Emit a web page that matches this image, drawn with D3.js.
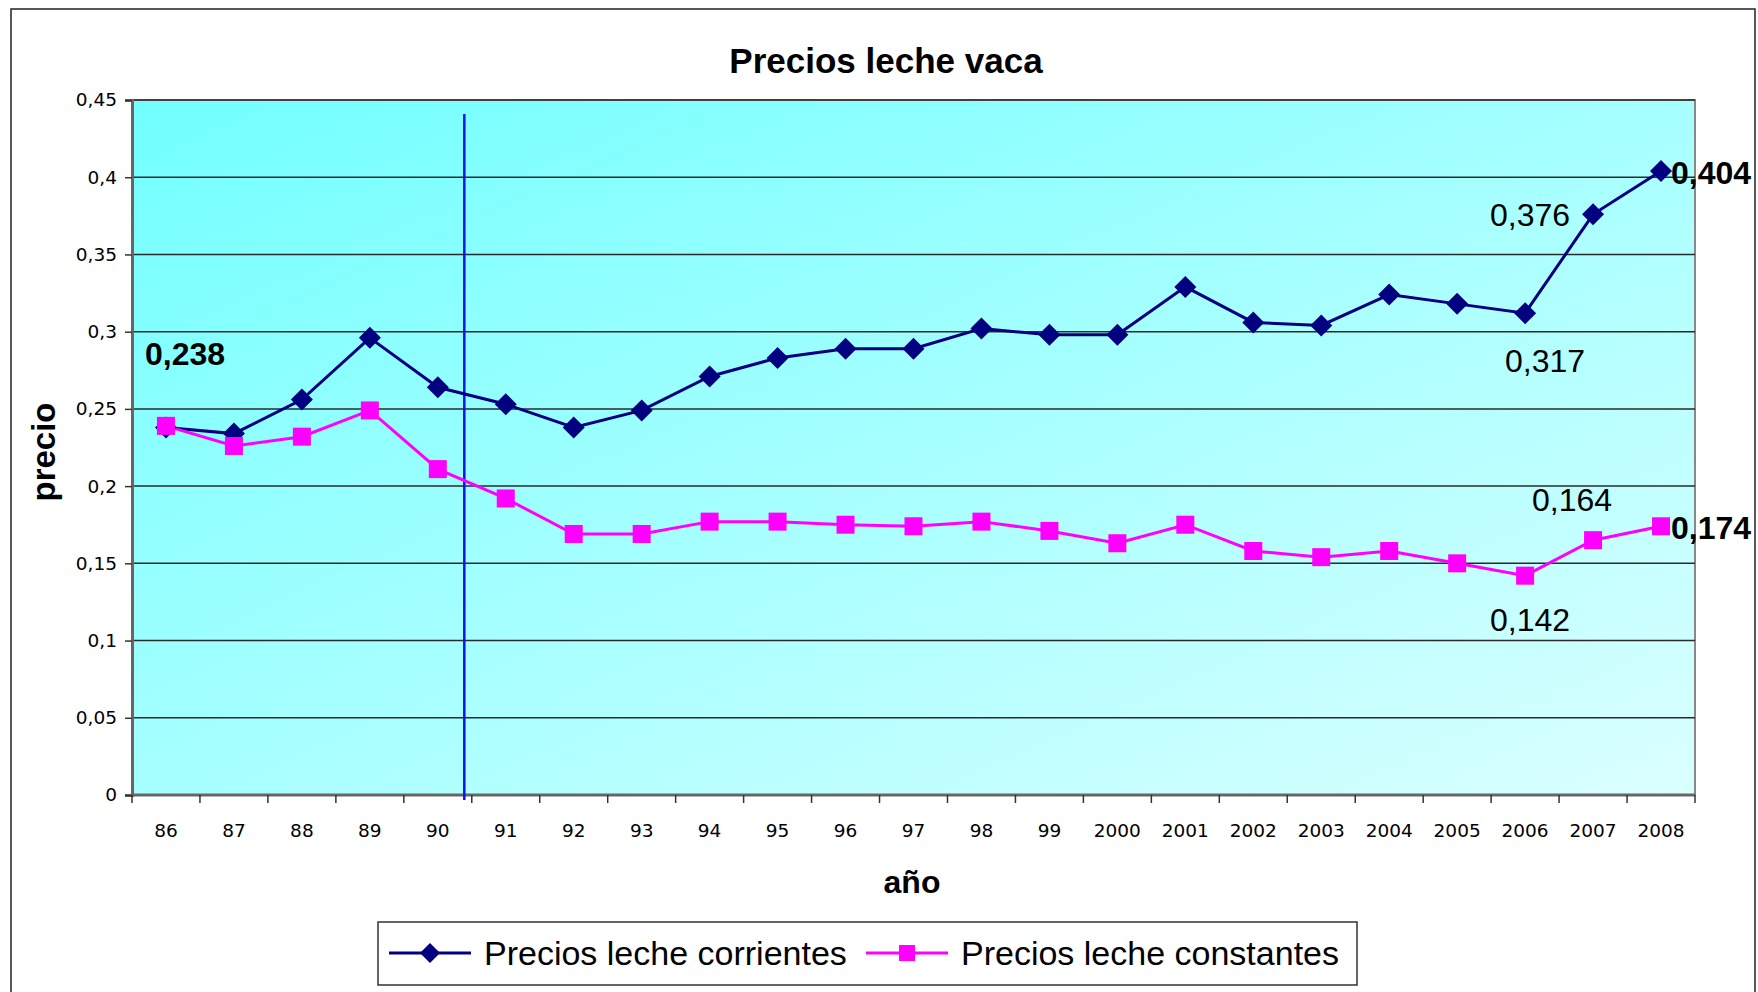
<!DOCTYPE html>
<html>
<head>
<meta charset="utf-8">
<title>Precios leche vaca</title>
<script src="https://cdn.jsdelivr.net/npm/d3@7"></script>
<style>
  body { margin: 0; background: #fff; }
  svg { display: block; }
  .tick-lbl { font-family: "DejaVu Sans", Verdana, sans-serif; font-size: 18.5px; fill: #000; }
  .lbl { font-family: "Liberation Sans", Arial, sans-serif; fill: #000; }
</style>
</head>
<body>
<script>
// data
var years = ["86","87","88","89","90","91","92","93","94","95","96","97","98","99",
             "2000","2001","2002","2003","2004","2005","2006","2007","2008"];
var corrientes = [0.238, 0.234, 0.256, 0.296, 0.264, 0.253, 0.238, 0.249, 0.271, 0.283, 0.289, 0.289,
                  0.302, 0.298, 0.298, 0.329, 0.306, 0.304, 0.324, 0.318, 0.312, 0.376, 0.404];
var constantes = [0.239, 0.226, 0.232, 0.249, 0.211, 0.192, 0.169, 0.169, 0.177, 0.177, 0.175, 0.174,
                  0.177, 0.171, 0.163, 0.175, 0.158, 0.154, 0.158, 0.150, 0.142, 0.165, 0.174];
var yTicks = [0, 0.05, 0.1, 0.15, 0.2, 0.25, 0.3, 0.35, 0.4, 0.45];
var seriesNames = ["Precios leche corrientes", "Precios leche constantes"];
var calloutsCorr = [["86", "0,238"], ["2006", "0,317"], ["2007", "0,376"], ["2008", "0,404"]];
var calloutsCons = [["2006", "0,142"], ["2007", "0,164"], ["2008", "0,174"]];
var splitYear = "90";

var W = 1758, H = 992;
var pLeft = 132, pRight = 1695, pTop = 100, pBottom = 795;

var svg = d3.select('body').append('svg').attr('width', W).attr('height', H);

var defs = svg.append('defs');
var grad = defs.append('linearGradient').attr('id', 'bg')
  .attr('x1', 0).attr('y1', 0).attr('x2', 1).attr('y2', 1);
grad.append('stop').attr('offset', '0%').attr('stop-color', '#72ffff');
grad.append('stop').attr('offset', '100%').attr('stop-color', '#dbffff');

// outer chart frame
svg.append('rect').attr('x', 11).attr('y', 9).attr('width', 1744).attr('height', 1010)
  .attr('fill', '#fff').attr('stroke', '#222').attr('stroke-width', 1.5);

var x = d3.scaleBand().domain(years).range([pLeft, pRight]).padding(0);
var y = d3.scaleLinear().domain([0, 0.45]).range([pBottom, pTop]);
var cx = function(d){ return x(d) + x.bandwidth() / 2; };

// plot area
svg.append('rect').attr('x', pLeft).attr('y', pTop).attr('width', pRight - pLeft).attr('height', pBottom - pTop)
  .attr('fill', 'url(#bg)').attr('stroke', '#888').attr('stroke-width', 2);

// gridlines
svg.append('g').selectAll('line').data(yTicks.filter(function(d){ return d > 0; })).enter().append('line')
  .attr('x1', pLeft).attr('x2', pRight)
  .attr('y1', function(d){ return y(d); }).attr('y2', function(d){ return y(d); })
  .attr('stroke', '#2a2a2a').attr('stroke-width', 1.5);

// y axis
var fmt = function(d){ return String(+d.toFixed(2)).replace('.', ','); };
var yAxis = svg.append('g').attr('transform', 'translate(' + pLeft + ',0)')
  .call(d3.axisLeft(y).tickValues(yTicks).tickFormat(fmt).tickSize(7).tickPadding(8));
yAxis.select('.domain').attr('stroke', '#666').attr('stroke-width', 3);
yAxis.selectAll('.tick line').attr('stroke', '#333').attr('stroke-width', 1.5);
yAxis.selectAll('text').attr('class', 'tick-lbl').attr('font-size', null).attr('font-family', null);

// x axis: ticks on band boundaries
var xAxis = svg.append('g').attr('transform', 'translate(0,' + pBottom + ')');
xAxis.append('line').attr('x1', pLeft).attr('x2', pRight).attr('stroke', '#666').attr('stroke-width', 3);
var bounds = years.map(function(d){ return x(d); }).concat([pRight]);
xAxis.selectAll('line.tk').data(bounds).enter().append('line').attr('class', 'tk')
  .attr('x1', function(d){ return d; }).attr('x2', function(d){ return d; })
  .attr('y1', 0).attr('y2', 8).attr('stroke', '#333').attr('stroke-width', 1.5);
xAxis.selectAll('text').data(years).enter().append('text').attr('class', 'tick-lbl')
  .attr('x', cx).attr('y', 35).attr('text-anchor', 'middle').attr('dominant-baseline', 'central')
  .text(function(d){ return d; });

// vertical separator line
var sx = x(splitYear) + x.bandwidth() * 0.89;
svg.append('line').attr('x1', sx).attr('x2', sx).attr('y1', 114).attr('y2', pBottom + 5)
  .attr('stroke', '#0a14f0').attr('stroke-width', 2.5);

// series
var line = d3.line().x(function(d, i){ return cx(years[i]); }).y(function(d){ return y(d); });
svg.append('path').datum(corrientes).attr('d', line).attr('fill', 'none')
  .attr('stroke', '#000080').attr('stroke-width', 3);
svg.append('path').datum(constantes).attr('d', line).attr('fill', 'none')
  .attr('stroke', '#ff00ff').attr('stroke-width', 3);

var diamond = function(s){ return 'M0,' + -s + 'L' + s + ',0L0,' + s + 'L' + -s + ',0Z'; };
svg.append('g').selectAll('path').data(corrientes).enter().append('path')
  .attr('d', diamond(11))
  .attr('transform', function(d, i){ return 'translate(' + cx(years[i]) + ',' + y(d) + ')'; })
  .attr('fill', '#000080');
svg.append('g').selectAll('rect').data(constantes).enter().append('rect')
  .attr('x', function(d, i){ return cx(years[i]) - 9; }).attr('y', function(d){ return y(d) - 9; })
  .attr('width', 18).attr('height', 18).attr('fill', '#ff00ff');

// data callouts
var place = {
  'c86':   { dx: 19,  dy: -73, anchor: 'middle', bold: true },
  'c2006': { dx: 20,  dy: 48,  anchor: 'middle', bold: false },
  'c2007': { dx: -23, dy: 1,   anchor: 'end',    bold: false },
  'c2008': { dx: 10,  dy: 2,   anchor: 'start',  bold: true },
  'k2006': { dx: 5,   dy: 44,  anchor: 'middle', bold: false },
  'k2007': { dx: -21, dy: -40, anchor: 'middle', bold: false },
  'k2008': { dx: 10,  dy: 2,   anchor: 'start',  bold: true }
};
function callouts(list, values, key) {
  list.forEach(function(c){
    var i = years.indexOf(c[0]), p = place[key + c[0]];
    svg.append('text').attr('class', 'lbl')
      .attr('x', cx(c[0]) + p.dx).attr('y', y(values[i]) + p.dy)
      .attr('text-anchor', p.anchor).attr('dominant-baseline', 'central')
      .attr('font-size', 32).attr('font-weight', p.bold ? 'bold' : 'normal')
      .text(c[1]);
  });
}
callouts(calloutsCorr, corrientes, 'c');
callouts(calloutsCons, constantes, 'k');

// titles
svg.append('text').attr('class', 'lbl').attr('x', 886).attr('y', 73).attr('text-anchor', 'middle')
  .attr('font-size', 35).attr('font-weight', 'bold').text('Precios leche vaca');
svg.append('text').attr('class', 'lbl').attr('x', 912).attr('y', 893).attr('text-anchor', 'middle')
  .attr('font-size', 32).attr('font-weight', 'bold').text('año');
svg.append('text').attr('class', 'lbl').attr('transform', 'translate(55,452) rotate(-90)')
  .attr('text-anchor', 'middle').attr('font-size', 33).attr('font-weight', 'bold').text('precio');

// legend
var lg = svg.append('g');
lg.append('rect').attr('x', 378).attr('y', 922).attr('width', 979).attr('height', 63)
  .attr('fill', '#fff').attr('stroke', '#333').attr('stroke-width', 1.5);
var ly = 953;
var items = [
  { name: seriesNames[0], color: '#000080', x0: 389, shape: 'diamond' },
  { name: seriesNames[1], color: '#ff00ff', x0: 866, shape: 'square' }
];
items.forEach(function(it){
  lg.append('line').attr('x1', it.x0).attr('x2', it.x0 + 82).attr('y1', ly).attr('y2', ly)
    .attr('stroke', it.color).attr('stroke-width', 3);
  if (it.shape === 'diamond') {
    lg.append('path').attr('d', diamond(10)).attr('transform', 'translate(' + (it.x0 + 41) + ',' + ly + ')')
      .attr('fill', it.color);
  } else {
    lg.append('rect').attr('x', it.x0 + 41 - 8).attr('y', ly - 8).attr('width', 16).attr('height', 16)
      .attr('fill', it.color);
  }
  lg.append('text').attr('class', 'lbl').attr('x', it.x0 + 95).attr('y', ly)
    .attr('dominant-baseline', 'central').attr('font-size', 34).text(it.name);
});
</script>
</body>
</html>
